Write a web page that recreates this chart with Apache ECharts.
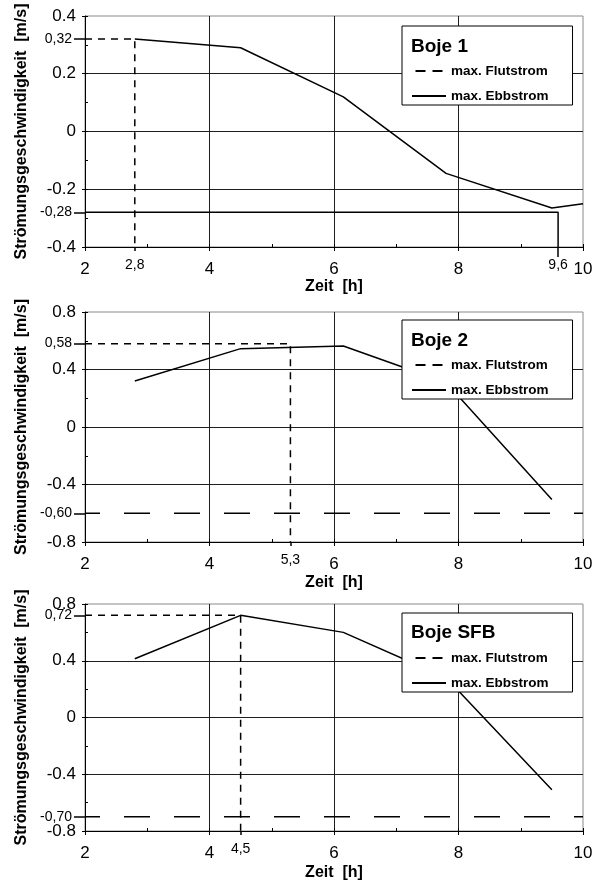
<!DOCTYPE html>
<html>
<head>
<meta charset="utf-8">
<script src="https://cdn.jsdelivr.net/npm/echarts@6/dist/echarts.min.js"></script>
<style>
  html, body { margin: 0; padding: 0; background: #fff; }
  #chart { width: 600px; height: 883px; }
</style>
</head>
<body>
<div id="chart"></div>
<script>
// Zeitachse [h]
const timeTicks = [2, 4, 6, 8, 10];
const timeMinorStep = 1;

// Boje 1: Verlauf der Strömungsgeschwindigkeit [m/s]
const boje1Hours = [2.8, 4.5, 6.15, 7.8, 9.5, 10];
const boje1Speed = [0.32, 0.29, 0.12, -0.145, -0.265, -0.25];
const boje1SpeedTicks = [-0.4, -0.2, 0, 0.2, 0.4];
const boje1FlutMax = [2.8, 0.32];     // [Zeit, Geschwindigkeit]
const boje1EbbMax = [9.6, -0.28];

// Boje 2
const boje2Hours = [2.8, 4.5, 6.15, 7.8, 9.5];
const boje2Speed = [0.32, 0.545, 0.563, 0.31, -0.505];
const boje2SpeedTicks = [-0.8, -0.4, 0, 0.4, 0.8];
const boje2FlutMax = [5.3, 0.58];
const boje2EbbMax = [null, -0.60];

// Boje SFB
const bojeSfbHours = [2.8, 4.5, 6.15, 7.8, 9.5];
const bojeSfbSpeed = [0.414, 0.72, 0.6, 0.28, -0.51];
const bojeSfbSpeedTicks = [-0.8, -0.4, 0, 0.4, 0.8];
const bojeSfbFlutMax = [4.5, 0.72];
const bojeSfbEbbMax = [null, -0.70];

const legendNames = ['max. Flutstrom', 'max. Ebbstrom'];

const FONT = '"Liberation Sans", Arial, Helvetica, sans-serif';

// Lage der drei Diagramme
const panels = [
  { title: 'Boje 1', hours: boje1Hours, speed: boje1Speed, ticks: boje1SpeedTicks,
    flut: boje1FlutMax, ebb: boje1EbbMax,
    top: 16, height: 231, xNameGap: 27, legendTop: 26, titleTop: 37 },
  { title: 'Boje 2', hours: boje2Hours, speed: boje2Speed, ticks: boje2SpeedTicks,
    flut: boje2FlutMax, ebb: boje2EbbMax,
    top: 312, height: 230, xNameGap: 33, legendTop: 320, titleTop: 331 },
  { title: 'Boje SFB', hours: bojeSfbHours, speed: bojeSfbSpeed, ticks: bojeSfbSpeedTicks,
    flut: bojeSfbFlutMax, ebb: bojeSfbEbbMax,
    top: 604, height: 227, xNameGap: 34, legendTop: 613, titleTop: 623 }
];

const comma = d => v => Number(v).toFixed(d).replace('.', ',');

const grid = [], xAxis = [], yAxis = [], series = [], legend = [], title = [];

const xMin = timeTicks[0], xMax = timeTicks[timeTicks.length - 1];
const xStep = timeTicks[1] - timeTicks[0];

panels.forEach((p, i) => {
  const yMin = p.ticks[0], yMax = p.ticks[p.ticks.length - 1];
  const yStep = p.ticks[1] - p.ticks[0];

  grid.push({
    left: 85, width: 498, top: p.top, height: p.height,
    show: true, borderColor: '#8a8a8a', borderWidth: 1, backgroundColor: 'transparent'
  });

  // Hauptachse x
  const xMain = xAxis.length;
  xAxis.push({
    type: 'value', gridIndex: i, position: 'bottom', min: xMin, max: xMax, interval: xStep,
    axisLine: { show: true, onZero: false, lineStyle: { color: '#000', width: 1 } },
    axisTick: { show: true, length: 4, lineStyle: { color: '#000' } },
    axisLabel: { fontSize: 17, color: '#000', margin: 14, fontFamily: FONT },
    splitLine: { show: true, showMinLine: false, showMaxLine: false,
                 lineStyle: { color: '#1e1e1e', width: 1 } },
    name: 'Zeit  [h]', nameLocation: 'middle', nameGap: p.xNameGap,
    nameTextStyle: { fontSize: 16, fontWeight: 'bold', color: '#000', fontFamily: FONT }
  });
  // Zwischenstriche x
  xAxis.push({
    type: 'value', gridIndex: i, position: 'bottom', min: xMin, max: xMax, interval: timeMinorStep,
    axisLine: { show: false, onZero: false },
    axisTick: { show: true, inside: true, length: 3, lineStyle: { color: '#000' } },
    axisLabel: { show: false }, splitLine: { show: false }
  });
  // Zeitpunkt des max. Flutstroms (Beschriftung + kurzer Strich)
  xAxis.push({
    type: 'value', gridIndex: i, position: 'bottom', min: xMin, max: xMax,
    axisLine: { show: false, onZero: false },
    axisTick: { show: true, length: 4, customValues: [p.flut[0]], lineStyle: { color: '#000', width: 1.5 } },
    axisLabel: { show: true, customValues: [p.flut[0]].concat(p.ebb[0] !== null ? [p.ebb[0]] : []),
                 formatter: comma(1), fontSize: 14, color: '#000', margin: 11, fontFamily: FONT },
    splitLine: { show: false }
  });
  // Zeitpunkt des max. Ebbstroms (langer Strich)
  if (p.ebb[0] !== null) {
    xAxis.push({
      type: 'value', gridIndex: i, position: 'bottom', min: xMin, max: xMax,
      axisLine: { show: false, onZero: false },
      axisTick: { show: true, length: 10, customValues: [p.ebb[0]], lineStyle: { color: '#000', width: 1.5 } },
      axisLabel: { show: false }, splitLine: { show: false }
    });
  }

  // Hauptachse y
  const yMain = yAxis.length;
  yAxis.push({
    type: 'value', gridIndex: i, position: 'left', min: yMin, max: yMax, interval: yStep,
    axisLine: { show: true, onZero: false, lineStyle: { color: '#000', width: 1 } },
    axisTick: { show: true, length: 3, lineStyle: { color: '#000' } },
    axisLabel: { fontSize: 17, color: '#000', margin: 9, fontFamily: FONT },
    splitLine: { show: true, showMinLine: false, showMaxLine: false,
                 lineStyle: { color: '#1e1e1e', width: 1 } },
    name: 'Strömungsgeschwindigkeit  [m/s]', nameLocation: 'middle', nameGap: 55,
    nameTextStyle: { fontSize: 16, fontWeight: 'bold', color: '#000', fontFamily: FONT }
  });
  // Zwischenstriche y
  yAxis.push({
    type: 'value', gridIndex: i, position: 'left', min: yMin, max: yMax, interval: yStep / 2,
    axisLine: { show: false, onZero: false },
    axisTick: { show: true, inside: true, length: 3, lineStyle: { color: '#000' } },
    axisLabel: { show: false }, splitLine: { show: false }
  });
  // Werte der Extrema
  yAxis.push({
    type: 'value', gridIndex: i, position: 'left', min: yMin, max: yMax,
    axisLine: { show: false, onZero: false },
    axisTick: { show: true, length: 11, customValues: [p.flut[1], p.ebb[1]],
                lineStyle: { color: '#000', width: 1.5 } },
    axisLabel: { show: true, customValues: [p.flut[1], p.ebb[1]], formatter: comma(2),
                 fontSize: 14, color: '#000', margin: 13, fontFamily: FONT },
    splitLine: { show: false }
  });

  // Verlauf
  series.push({
    name: 'Verlauf ' + p.title, type: 'line', xAxisIndex: xMain, yAxisIndex: yMain,
    data: p.hours.map((h, k) => [h, p.speed[k]]),
    symbol: 'none', silent: true, z: 3,
    itemStyle: { color: '#000' }, lineStyle: { color: '#000', width: 1.5 }
  });
  // max. Flutstrom
  series.push({
    name: legendNames[0], type: 'line', xAxisIndex: xMain, yAxisIndex: yMain,
    data: [[xMin, p.flut[1]], [p.flut[0], p.flut[1]], [p.flut[0], yMin]],
    symbol: 'none', silent: true, z: 3,
    itemStyle: { color: '#000' }, lineStyle: { color: '#000', width: 1.5, type: [7, 6] }
  });
  // max. Ebbstrom
  if (p.ebb[0] !== null) {
    series.push({
      name: legendNames[1], type: 'line', xAxisIndex: xMain, yAxisIndex: yMain,
      data: [[xMin, p.ebb[1]], [p.ebb[0], p.ebb[1]], [p.ebb[0], yMin]],
      symbol: 'none', silent: true, z: 3,
      itemStyle: { color: '#000' }, lineStyle: { color: '#000', width: 1.5 }
    });
  } else {
    series.push({
      name: legendNames[1], type: 'line', xAxisIndex: xMain, yAxisIndex: yMain,
      data: [[xMin, p.ebb[1]], [xMax, p.ebb[1]]],
      symbol: 'none', silent: true, z: 3,
      itemStyle: { color: '#000' },
      lineStyle: { color: '#000', width: 1.5, type: [26, 24], dashOffset: 11 }
    });
  }

  legend.push({
    left: 402, top: p.legendTop, orient: 'vertical', selectedMode: false,
    backgroundColor: '#fff', borderColor: '#000', borderWidth: 1,
    padding: [38, 24, 2, 10], itemWidth: 34, itemHeight: 2, itemGap: 11,
    textStyle: { fontSize: 13.5, fontWeight: 'bold', color: '#000', fontFamily: FONT },
    data: [
      { name: legendNames[0], icon: 'path://M0,0H10V2H0Z M17,0H27V2H17Z' },
      { name: legendNames[1], icon: 'rect' }
    ]
  });

  title.push({
    text: p.title, left: 411, top: p.titleTop, padding: 0, z: 10,
    textStyle: { fontSize: 19, fontWeight: 'bold', color: '#000', fontFamily: FONT }
  });
});

const chart = echarts.init(document.getElementById('chart'), null, { renderer: 'canvas' });
chart.setOption({
  animation: false,
  backgroundColor: '#fff',
  textStyle: { fontFamily: FONT },
  grid, xAxis, yAxis, series, legend, title
});
</script>
</body>
</html>
